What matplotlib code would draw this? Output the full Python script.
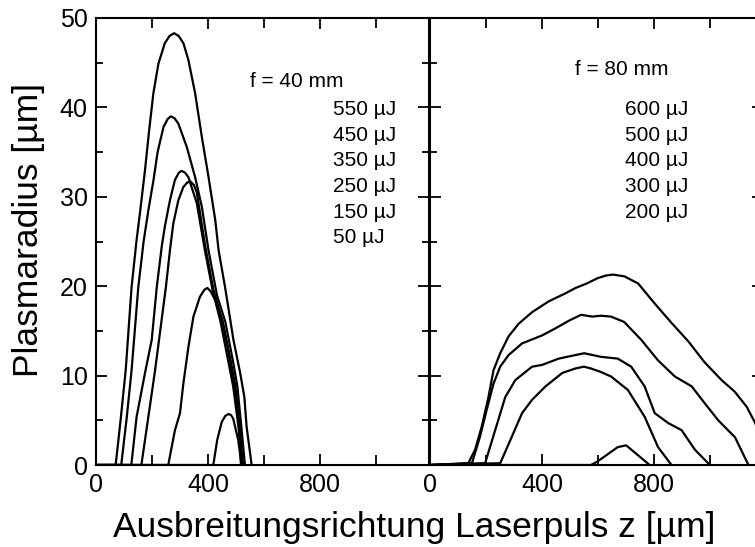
import matplotlib.pyplot as plt
from matplotlib.ticker import MultipleLocator

plt.rcParams['font.family'] = ['Liberation Sans', 'DejaVu Sans']

# f = 40 mm, Pulsenergien und Profile (z in um, r in um)
labels_40 = ["550 µJ", "450 µJ", "350 µJ", "250 µJ", "150 µJ", "50 µJ"]
z_550 = [0, 70, 79, 89, 106, 127, 145, 157, 175, 190, 205, 223, 246, 263, 279, 295, 312, 330, 354, 378, 402, 426, 438, 461, 491, 515, 530, 538, 556]
r_550 = [0, 0, 2.5, 5.4, 10.6, 19.9, 25.2, 28.2, 33.0, 37.5, 41.6, 44.9, 47.2, 48.0, 48.3, 48.0, 47.2, 45.3, 41.6, 36.7, 32.2, 27.4, 24.0, 19.9, 14.0, 10.3, 7.6, 4.3, 0]
z_450 = [0, 90, 110, 127, 151, 170, 187, 205, 220, 241, 256, 267, 280, 294, 324, 354, 378, 402, 432, 462, 490, 505, 520, 532]
r_450 = [0, 0, 5.4, 10.6, 19.9, 25.0, 28.5, 31.8, 35.0, 37.8, 38.7, 39.0, 38.8, 38.2, 35.6, 32.2, 28.9, 24.0, 19.0, 16.0, 11.5, 8.8, 4.0, 0]
z_350 = [0, 126, 145, 175, 199, 217, 235, 246, 264, 282, 296, 306, 318, 330, 360, 389, 420, 452, 480, 495, 512, 522]
r_350 = [0, 0, 5.4, 10.3, 14.0, 19.9, 24.5, 26.7, 29.6, 31.9, 32.7, 32.9, 32.7, 32.2, 29.3, 24.0, 19.0, 16.0, 11.5, 8.8, 4.0, 0]
z_250 = [0, 162, 187, 211, 250, 264, 276, 294, 312, 326, 338, 350, 360, 390, 420, 453, 482, 498, 514, 525]
r_250 = [0, 0, 5.4, 10.6, 20.0, 24.0, 27.0, 29.6, 31.1, 31.6, 31.7, 31.3, 30.5, 24.5, 19.5, 16.0, 11.5, 8.8, 4.0, 0]
z_150 = [0, 258, 282, 300, 312, 330, 348, 371, 387, 398, 410, 425, 445, 470, 490, 510, 518]
r_150 = [0, 0, 3.9, 5.8, 9.1, 13.2, 16.6, 18.8, 19.6, 19.8, 19.4, 18.5, 16.0, 12.0, 8.8, 4.0, 0]
z_50 = [0, 419, 433, 449, 462, 473, 482, 490, 508, 520]
r_50 = [0, 0, 2.8, 4.8, 5.5, 5.7, 5.6, 5.2, 2.8, 0]

# f = 80 mm
labels_80 = ["600 µJ", "500 µJ", "400 µJ", "300 µJ", "200 µJ"]
z_600 = [0, 137, 161, 185, 209, 227, 251, 281, 317, 365, 424, 484, 520, 560, 599, 630, 654, 695, 744, 802, 863, 924, 981, 1042, 1089, 1132, 1162, 1190]
r_600 = [0, 0.2, 1.7, 4.3, 7.6, 10.6, 12.5, 14.4, 15.8, 17.1, 18.3, 19.2, 19.8, 20.3, 20.9, 21.2, 21.3, 21.1, 20.3, 18.1, 15.9, 13.8, 11.5, 9.5, 8.2, 6.5, 4.7, 2.5]
z_500 = [0, 150, 179, 203, 227, 251, 281, 329, 401, 449, 500, 540, 580, 611, 647, 694, 755, 815, 875, 935, 982, 1030, 1090, 1138]
r_500 = [0, 0.2, 3.2, 6.2, 9.1, 11.0, 12.3, 13.6, 14.5, 15.3, 16.2, 16.8, 16.6, 16.7, 16.6, 16.0, 14.0, 11.7, 9.9, 8.8, 6.9, 5.0, 3.1, 0]
z_400 = [0, 197, 233, 269, 305, 365, 401, 460, 520, 551, 611, 671, 719, 767, 803, 851, 899, 947, 1000]
r_400 = [0, 0.2, 3.9, 7.6, 9.5, 11.0, 11.2, 11.9, 12.3, 12.5, 12.1, 11.9, 11.0, 8.8, 5.8, 4.7, 3.9, 1.7, 0]
z_300 = [0, 251, 293, 329, 365, 413, 473, 520, 550, 575, 611, 647, 707, 767, 815, 863]
r_300 = [0, 0.2, 3.2, 5.8, 7.3, 8.8, 10.3, 10.8, 11.0, 10.8, 10.4, 9.9, 8.4, 5.4, 2.0, 0]
z_200 = [0, 575, 599, 671, 701, 785]
r_200 = [0, 0, 0.4, 2.0, 2.2, 0]

curves_40 = [(z_550, r_550), (z_450, r_450), (z_350, r_350), (z_250, r_250), (z_150, r_150), (z_50, r_50)]
curves_80 = [(z_600, r_600), (z_500, r_500), (z_400, r_400), (z_300, r_300), (z_200, r_200)]

fig = plt.figure(figsize=(7.55, 5.47), dpi=100)
ax1 = fig.add_axes([0.1272, 0.1499, 0.4411, 0.8172])
ax2 = fig.add_axes([0.5695, 0.1499, 0.4411, 0.8172])

for ax, curves in ((ax1, curves_40), (ax2, curves_80)):
    for z, r in curves:
        ax.plot(z, r, color='black', lw=1.6, solid_joinstyle='round')
    ax.set_xlim(0, 1190)
    ax.set_ylim(0, 50)
    ax.xaxis.set_major_locator(MultipleLocator(400))
    ax.xaxis.set_minor_locator(MultipleLocator(200))
    ax.yaxis.set_major_locator(MultipleLocator(10))
    ax.yaxis.set_minor_locator(MultipleLocator(5))
    ax.tick_params(which='both', direction='in', top=True, right=True, width=1.3, labelsize=18)
    ax.tick_params(which='major', length=8)
    ax.tick_params(which='minor', length=5)
    ax.tick_params(axis='x', which='minor', length=7)
    ax.tick_params(axis='x', pad=6)
    ax.tick_params(axis='y', pad=6)
    for s in ax.spines.values():
        s.set_linewidth(1.5)

ax2.tick_params(labelleft=False)

# Beschriftungen
ax1.text(0.4625, 0.845, "f = 40 mm", transform=ax1.transAxes, fontsize=15, va='baseline')
for i, lab in enumerate(labels_40):
    ax1.text(0.712, 0.782 - i * 0.0571, lab, transform=ax1.transAxes, fontsize=15, va='baseline')

ax2.text(0.435, 0.8725, "f = 80 mm", transform=ax2.transAxes, fontsize=15, va='baseline')
for i, lab in enumerate(labels_80):
    ax2.text(0.5856, 0.783 - i * 0.0576, lab, transform=ax2.transAxes, fontsize=15, va='baseline')

fig.text(38 / 755, (547 - 377) / 547, "Plasmaradius [µm]", rotation=90, rotation_mode='anchor',
         fontsize=25.5, ha='left', va='baseline')
fig.text(113 / 755, 10 / 547, "Ausbreitungsrichtung Laserpuls z [µm]", fontsize=25.5,
         ha='left', va='baseline')

fig.savefig("out.png", dpi=100)
